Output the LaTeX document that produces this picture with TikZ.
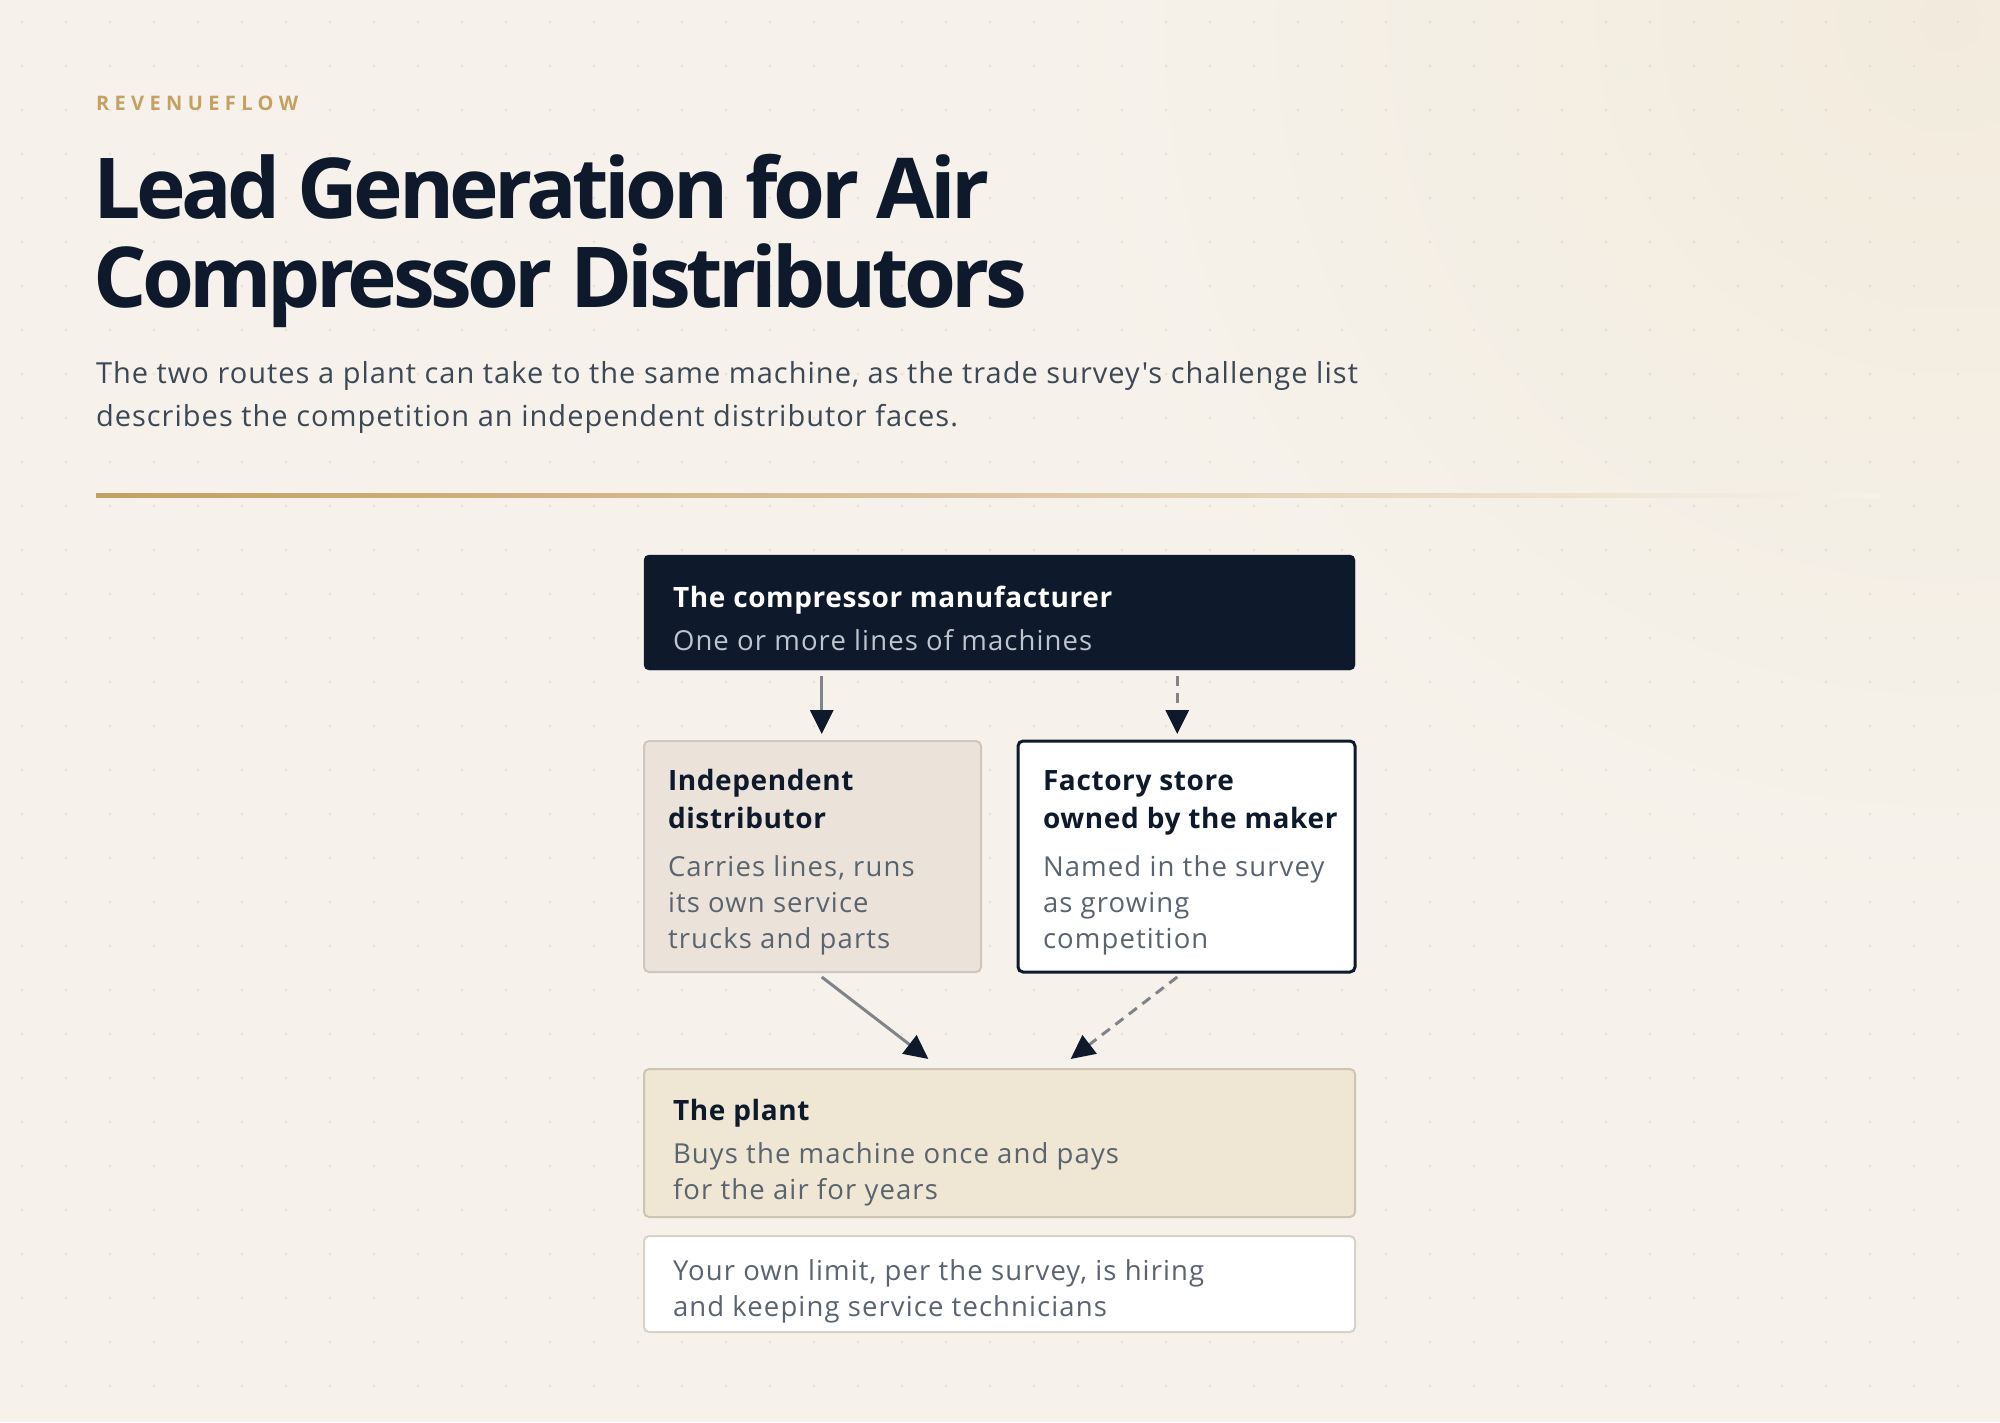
\documentclass[tikz,border=0pt]{standalone}
\usepackage{fontspec}
\setmainfont{Open Sans}
\newfontfamily\headfont{Open Sans}[LetterSpace=-5.4]
\newfontfamily\kickerfont{Open Sans}[LetterSpace=27]
\newfontfamily\bodyfont{Open Sans}[LetterSpace=4]
\newfontfamily\subfont{Open Sans}[LetterSpace=3.5]
\newfontfamily\bhfont{Open Sans}[LetterSpace=2.2]
\usetikzlibrary{arrows.meta,calc}
\definecolor{bg}{HTML}{F6F2EB}
\definecolor{bgwarm}{HTML}{F2EBDD}
\definecolor{dotc}{HTML}{E6E0D5}
\definecolor{gold}{HTML}{C4A062}
\definecolor{navy}{HTML}{0E1A2B}
\definecolor{subtxt}{HTML}{3D4856}
\definecolor{bodytxt}{HTML}{5A646F}
\definecolor{mfrsub}{HTML}{BFC5CD}
\definecolor{indepfill}{HTML}{EBE3DA}
\definecolor{indepline}{HTML}{CFC7BD}
\definecolor{plantfill}{HTML}{EFE6D4}
\definecolor{plantline}{HTML}{CDC4B3}
\definecolor{noteline}{HTML}{D5D2CC}
\definecolor{connc}{HTML}{80848A}
\tikzset{
  boxbase/.style={rectangle, rounded corners=5pt, inner sep=0pt, outer sep=0pt, anchor=north west},
  mfrbox/.style={boxbase, fill=navy, draw=navy},
  indepbox/.style={boxbase, fill=indepfill, draw=indepline, line width=2pt},
  factbox/.style={boxbase, fill=white, draw=navy, line width=3pt},
  plantbox/.style={boxbase, fill=plantfill, draw=plantline, line width=2pt},
  notebox/.style={boxbase, fill=white, draw=noteline, line width=2pt},
  txt/.style={anchor=base west, inner sep=0pt, outer sep=0pt},
  btitle/.style={txt, font=\fontsize{28}{32}\selectfont\bhfont\bfseries, text=navy},
  bbody/.style={txt, font=\fontsize{27.5}{32}\selectfont\bodyfont, text=bodytxt},
  conn/.style={draw=connc, line width=3pt, -{Triangle[length=24pt,width=23pt,color=navy]}},
  dconn/.style={conn, dash pattern=on 10pt off 7pt}
}
\begin{document}
\begin{tikzpicture}[x=1pt,y=-1pt]
\useasboundingbox (0,0) rectangle (2000,1422);
% background
\fill[bg] (0,0) rectangle (2000,1422);
\begin{scope}
\clip (0,0) rectangle (2000,1422);
\shade[inner color=bgwarm, outer color=bg] (1950,20) circle (900pt);
\end{scope}
\foreach \gx in {22,66,...,1998} {
  \foreach \gy in {22,66,...,1420} {
    \fill[dotc] (\gx,\gy) circle (1.5pt);
  }
}
% header
\node[txt, font=\fontsize{20}{24}\selectfont\kickerfont\bfseries, text=gold] (kicker) at (96,110) {REVENUEFLOW};
\node[txt, font=\fontsize{84}{90}\selectfont\headfont\bfseries, text=navy] (title1) at (93,218) {Lead Generation for Air};
\node[txt, font=\fontsize{84}{90}\selectfont\headfont\bfseries, text=navy] (title2) at (93,307) {Compressor Distributors};
\node[txt, font=\fontsize{29}{34}\selectfont\subfont, text=subtxt] (sub1) at (96,383) {The two routes a plant can take to the same machine, as the trade survey's challenge list};
\node[txt, font=\fontsize{29}{34}\selectfont\subfont, text=subtxt] (sub2) at (96,426) {describes the competition an independent distributor faces.};
% divider
\shade[left color=gold, right color=bg, middle color=gold!55!bg] (96,493) rectangle (1880,497);
% boxes
\node[mfrbox, minimum width=711pt, minimum height=115pt] (mfr) at (644,555) {};
\node[indepbox, minimum width=337pt, minimum height=231pt] (indep) at (644,741) {};
\node[factbox, minimum width=337pt, minimum height=231pt] (fact) at (1018,741) {};
\node[plantbox, minimum width=711pt, minimum height=148pt] (plant) at (644,1069) {};
\node[notebox, minimum width=711pt, minimum height=96pt] (note) at (644,1236) {};
% box texts
\node[btitle, text=white] (mfrT) at (673,607) {The compressor manufacturer};
\node[bbody, text=mfrsub] (mfrB) at (673,650) {One or more lines of machines};
\node[btitle] (indT1) at (668,790) {Independent};
\node[btitle] (indT2) at (668,828) {distributor};
\node[bbody] (indB1) at (668,876) {Carries lines, runs};
\node[bbody] (indB2) at (668,912) {its own service};
\node[bbody] (indB3) at (668,948) {trucks and parts};
\node[btitle] (facT1) at (1043,790) {Factory store};
\node[btitle] (facT2) at (1043,828) {owned by the maker};
\node[bbody] (facB1) at (1043,876) {Named in the survey};
\node[bbody] (facB2) at (1043,912) {as growing};
\node[bbody] (facB3) at (1043,948) {competition};
\node[btitle] (plaT) at (673,1120) {The plant};
\node[bbody] (plaB1) at (673,1163) {Buys the machine once and pays};
\node[bbody] (plaB2) at (673,1199) {for the air for years};
\node[bbody, text=subtxt!85!white] (noteB1) at (673,1280) {Your own limit, per the survey, is hiring};
\node[bbody, text=subtxt!85!white] (noteB2) at (673,1316) {and keeping service technicians};
% connectors
\coordinate (m1) at ($(mfr.south west)!0.25!(mfr.south east)$);
\coordinate (m2) at ($(mfr.south west)!0.75!(mfr.south east)$);
\coordinate (p1) at ($(plant.north west)!0.4!(plant.north east)$);
\coordinate (p2) at ($(plant.north west)!0.6!(plant.north east)$);
\draw[conn] ($(m1)+(0,6)$) -- ($(m1 |- indep.north)+(0,-7)$);
\draw[dconn] ($(m2)+(0,6)$) -- ($(m2 |- fact.north)+(0,-7)$);
\draw[conn] ($(m1 |- indep.south)+(0,5)$) -- ($(p1)+(0,-10)$);
\draw[dconn] ($(m2 |- fact.south)+(0,5)$) -- ($(p2)+(0,-10)$);
\end{tikzpicture}
\end{document}
